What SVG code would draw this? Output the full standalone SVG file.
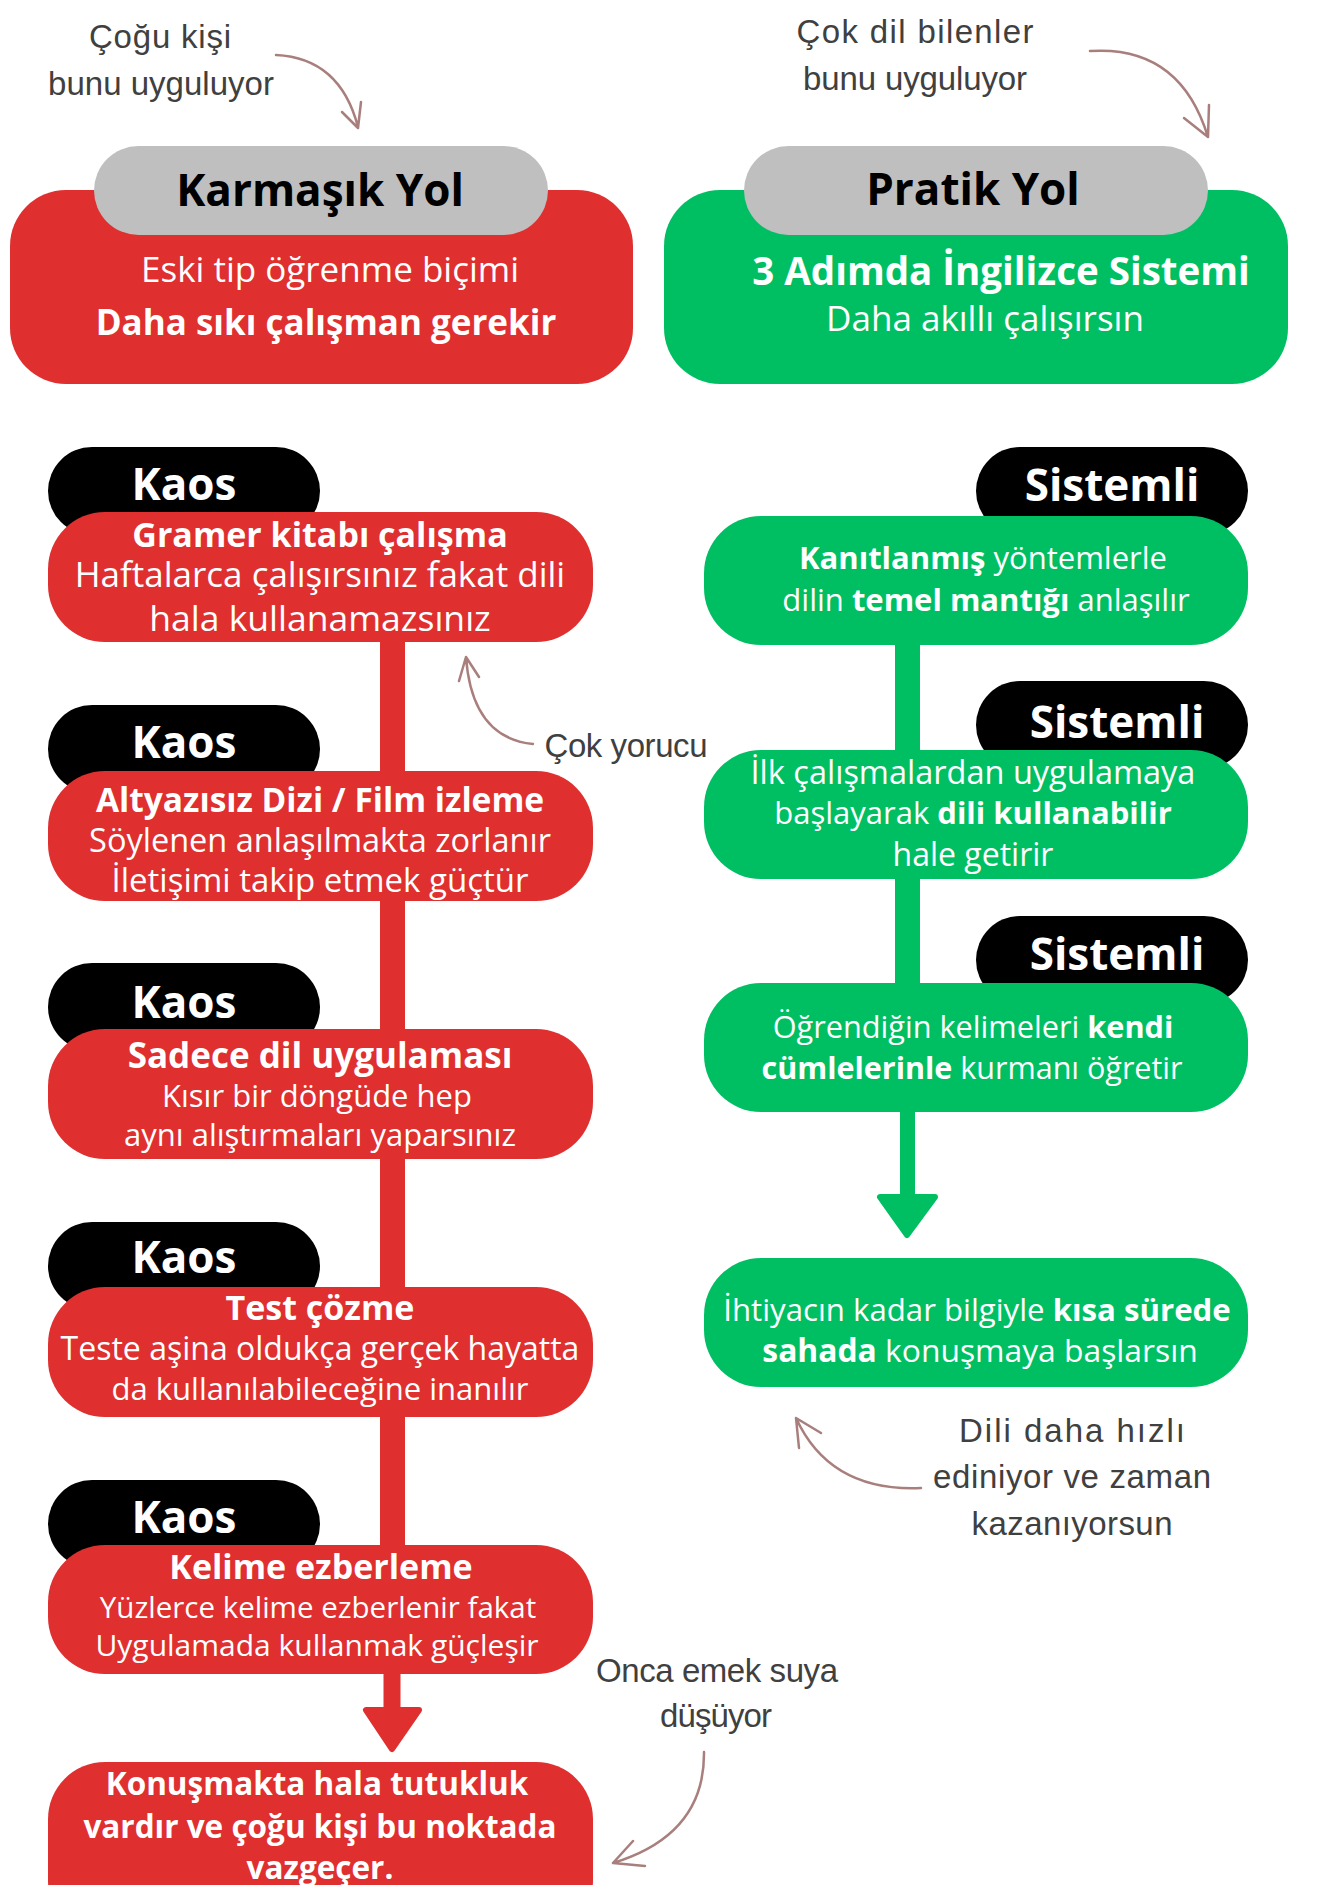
<svg xmlns="http://www.w3.org/2000/svg" width="1321" height="1885" viewBox="0 0 1321 1885">
<style>
.red{fill:#DF2F2F}
.grn{fill:#00BF63}
.blk{fill:#000}
.gry{fill:#BFBFBF}
.w{fill:#fff;font-family:"Open Sans","Noto Sans",sans-serif;text-anchor:middle}
.k{fill:#000;font-family:"Open Sans","Noto Sans",sans-serif;text-anchor:middle;font-weight:700;font-size:44px}
.b{font-weight:700}
.tag{font-weight:700;font-size:44px}
.h{fill:#404040;font-family:"Liberation Sans","DejaVu Sans",sans-serif;text-anchor:middle;font-size:33px}
.ann{fill:none;stroke:#A87F7C;stroke-width:2.5;stroke-linecap:round;stroke-linejoin:round}
.tri-r{fill:#DF2F2F;stroke:#DF2F2F;stroke-width:6;stroke-linejoin:round}
.tri-g{fill:#00BF63;stroke:#00BF63;stroke-width:6;stroke-linejoin:round}
</style>
<rect width="1321" height="1885" fill="#fff"/>

<g id="connectors">
  <rect class="red" x="380" y="630" width="25" height="930"/>
  <rect class="red" x="383.5" y="1665" width="17" height="48"/>
  <polygon class="tri-r" points="366,1710 419,1710 392,1749"/>
  <rect class="grn" x="895" y="630" width="25" height="370"/>
  <rect class="grn" x="900" y="1105" width="15" height="95"/>
  <polygon class="tri-g" points="880,1197 935,1197 907,1235"/>
  <path class="ann" d="M276,55 Q340,58 358,127 M342,112 L358,128 L361,102"/>
  <path class="ann" d="M1090,51 Q1180,45 1208,137 M1184,118 L1208,137 L1209,105"/>
  <path class="ann" d="M533,744 Q472,738 466,657 M459,681 L466,657 L479,677"/>
  <path class="ann" d="M921,1488 Q830,1492 796,1418 M799,1448 L796,1418 L821,1433"/>
  <path class="ann" d="M704,1752 Q705,1835 613,1863 M633,1841 L613,1863 L645,1866"/>
</g>

<g id="note-cogu">
  <text class="h" x="160" y="48" textLength="142" lengthAdjust="spacing">Çoğu kişi</text>
  <text class="h" x="161" y="95" textLength="226" lengthAdjust="spacing">bunu uyguluyor</text>
</g>
<g id="note-cokdil">
  <text class="h" x="915" y="43" textLength="237" lengthAdjust="spacing">Çok dil bilenler</text>
  <text class="h" x="915" y="90" textLength="224" lengthAdjust="spacing">bunu uyguluyor</text>
</g>

<g id="karmasik">
  <rect class="red" x="10" y="190" width="623" height="194" rx="56"/>
  <rect class="gry" x="94" y="146" width="454" height="89" rx="44.5"/>
  <text class="k" x="320" y="206">Karmaşık Yol</text>
  <text class="w" x="330" y="282" font-size="35">Eski tip öğrenme biçimi</text>
  <text class="w b" x="326" y="335" font-size="35">Daha sıkı çalışman gerekir</text>
</g>

<g id="pratik">
  <rect class="grn" x="664" y="190" width="624" height="194" rx="56"/>
  <rect class="gry" x="744" y="146" width="464" height="89" rx="44.5"/>
  <text class="k" x="973" y="205">Pratik Yol</text>
  <text class="w b" x="1001" y="285" font-size="38.5">3 Adımda İngilizce Sistemi</text>
  <text class="w" x="985" y="331" font-size="35">Daha akıllı çalışırsın</text>
</g>

<g id="kaos1">
  <rect class="blk" x="48" y="447" width="272" height="88" rx="44"/>
  <text class="w tag" x="184" y="500">Kaos</text>
  <rect class="red" x="48" y="512" width="545" height="130" rx="57"/>
  <text class="w b" x="320" y="547" font-size="34">Gramer kitabı çalışma</text>
  <text class="w" x="320" y="587" font-size="35">Haftalarca çalışırsınız fakat dili</text>
  <text class="w" x="320" y="631" font-size="35.5">hala kullanamazsınız</text>
</g>

<g id="kaos2">
  <rect class="blk" x="48" y="705" width="272" height="88" rx="44"/>
  <text class="w tag" x="184" y="758">Kaos</text>
  <rect class="red" x="48" y="771" width="545" height="130" rx="57"/>
  <text class="w b" x="320" y="812" font-size="33.5">Altyazısız Dizi / Film izleme</text>
  <text class="w" x="320" y="852" font-size="32.5">Söylenen anlaşılmakta zorlanır</text>
  <text class="w" x="320" y="892" font-size="33">İletişimi takip etmek güçtür</text>
</g>

<g id="kaos3">
  <rect class="blk" x="48" y="963" width="272" height="88" rx="44"/>
  <text class="w tag" x="184" y="1018">Kaos</text>
  <rect class="red" x="48" y="1029" width="545" height="130" rx="57"/>
  <text class="w b" x="320" y="1068" font-size="35">Sadece dil uygulaması</text>
  <text class="w" x="317" y="1107" font-size="31">Kısır bir döngüde hep</text>
  <text class="w" x="320" y="1146" font-size="31">aynı alıştırmaları yaparsınız</text>
</g>

<g id="kaos4">
  <rect class="blk" x="48" y="1222" width="272" height="88" rx="44"/>
  <text class="w tag" x="184" y="1273">Kaos</text>
  <rect class="red" x="48" y="1287" width="545" height="130" rx="57"/>
  <text class="w b" x="320" y="1320" font-size="34">Test çözme</text>
  <text class="w" x="320" y="1360" font-size="32">Teste aşina oldukça gerçek hayatta</text>
  <text class="w" x="320" y="1400" font-size="31">da kullanılabileceğine inanılır</text>
</g>

<g id="kaos5">
  <rect class="blk" x="48" y="1480" width="272" height="88" rx="44"/>
  <text class="w tag" x="184" y="1533">Kaos</text>
  <rect class="red" x="48" y="1545" width="545" height="129" rx="57"/>
  <text class="w b" x="321" y="1579" font-size="34">Kelime ezberleme</text>
  <text class="w" x="318" y="1618" font-size="29.5">Yüzlerce kelime ezberlenir fakat</text>
  <text class="w" x="317" y="1656" font-size="30">Uygulamada kullanmak güçleşir</text>
</g>

<g id="sonuc-kaos">
  <rect class="red" x="48" y="1762" width="545" height="175" rx="57"/>
  <text class="w b" x="317" y="1795" font-size="31.5">Konuşmakta hala tutukluk</text>
  <text class="w b" x="320" y="1838" font-size="31.5">vardır ve çoğu kişi bu noktada</text>
  <text class="w b" x="320" y="1879" font-size="31.5">vazgeçer.</text>
</g>

<g id="sistemli1">
  <rect class="blk" x="976" y="447" width="272" height="88" rx="44"/>
  <text class="w tag" x="1112" y="501">Sistemli</text>
  <rect class="grn" x="704" y="516" width="544" height="129" rx="57"/>
  <text class="w" x="983" y="569" font-size="31"><tspan class="b">Kanıtlanmış</tspan> yöntemlerle</text>
  <text class="w" x="986" y="611" font-size="31">dilin <tspan class="b">temel mantığı</tspan> anlaşılır</text>
</g>

<g id="sistemli2">
  <rect class="blk" x="976" y="681" width="272" height="88" rx="44"/>
  <text class="w tag" x="1117" y="738">Sistemli</text>
  <rect class="grn" x="704" y="750" width="544" height="129" rx="57"/>
  <text class="w" x="973" y="784" font-size="32.5">İlk çalışmalardan uygulamaya</text>
  <text class="w" x="973" y="824" font-size="31">başlayarak <tspan class="b">dili kullanabilir</tspan></text>
  <text class="w" x="973" y="866" font-size="32">hale getirir</text>
</g>

<g id="sistemli3">
  <rect class="blk" x="976" y="916" width="272" height="88" rx="44"/>
  <text class="w tag" x="1117" y="970">Sistemli</text>
  <rect class="grn" x="704" y="983" width="544" height="129" rx="57"/>
  <text class="w" x="973" y="1038" font-size="30.7">Öğrendiğin kelimeleri <tspan class="b">kendi</tspan></text>
  <text class="w" x="972" y="1079" font-size="30.5"><tspan class="b">cümlelerinle</tspan> kurmanı öğretir</text>
</g>

<g id="sonuc-sistemli">
  <rect class="grn" x="704" y="1258" width="544" height="129" rx="57"/>
  <text class="w" x="977" y="1321" font-size="31.2">İhtiyacın kadar bilgiyle <tspan class="b">kısa sürede</tspan></text>
  <text class="w" x="980" y="1362" font-size="31.8"><tspan class="b">sahada</tspan> konuşmaya başlarsın</text>
</g>

<g id="note-yorucu">
  <text class="h" x="626" y="757" textLength="163" lengthAdjust="spacing">Çok yorucu</text>
</g>
<g id="note-hizli">
  <text class="h" x="1072" y="1442" textLength="226" lengthAdjust="spacing">Dili daha hızlı</text>
  <text class="h" x="1072" y="1488" textLength="278" lengthAdjust="spacing">ediniyor ve zaman</text>
  <text class="h" x="1072" y="1535" textLength="201" lengthAdjust="spacing">kazanıyorsun</text>
</g>
<g id="note-emek">
  <text class="h" x="717" y="1682" textLength="242" lengthAdjust="spacing">Onca emek suya</text>
  <text class="h" x="716" y="1727" textLength="112" lengthAdjust="spacing">düşüyor</text>
</g>
</svg>
